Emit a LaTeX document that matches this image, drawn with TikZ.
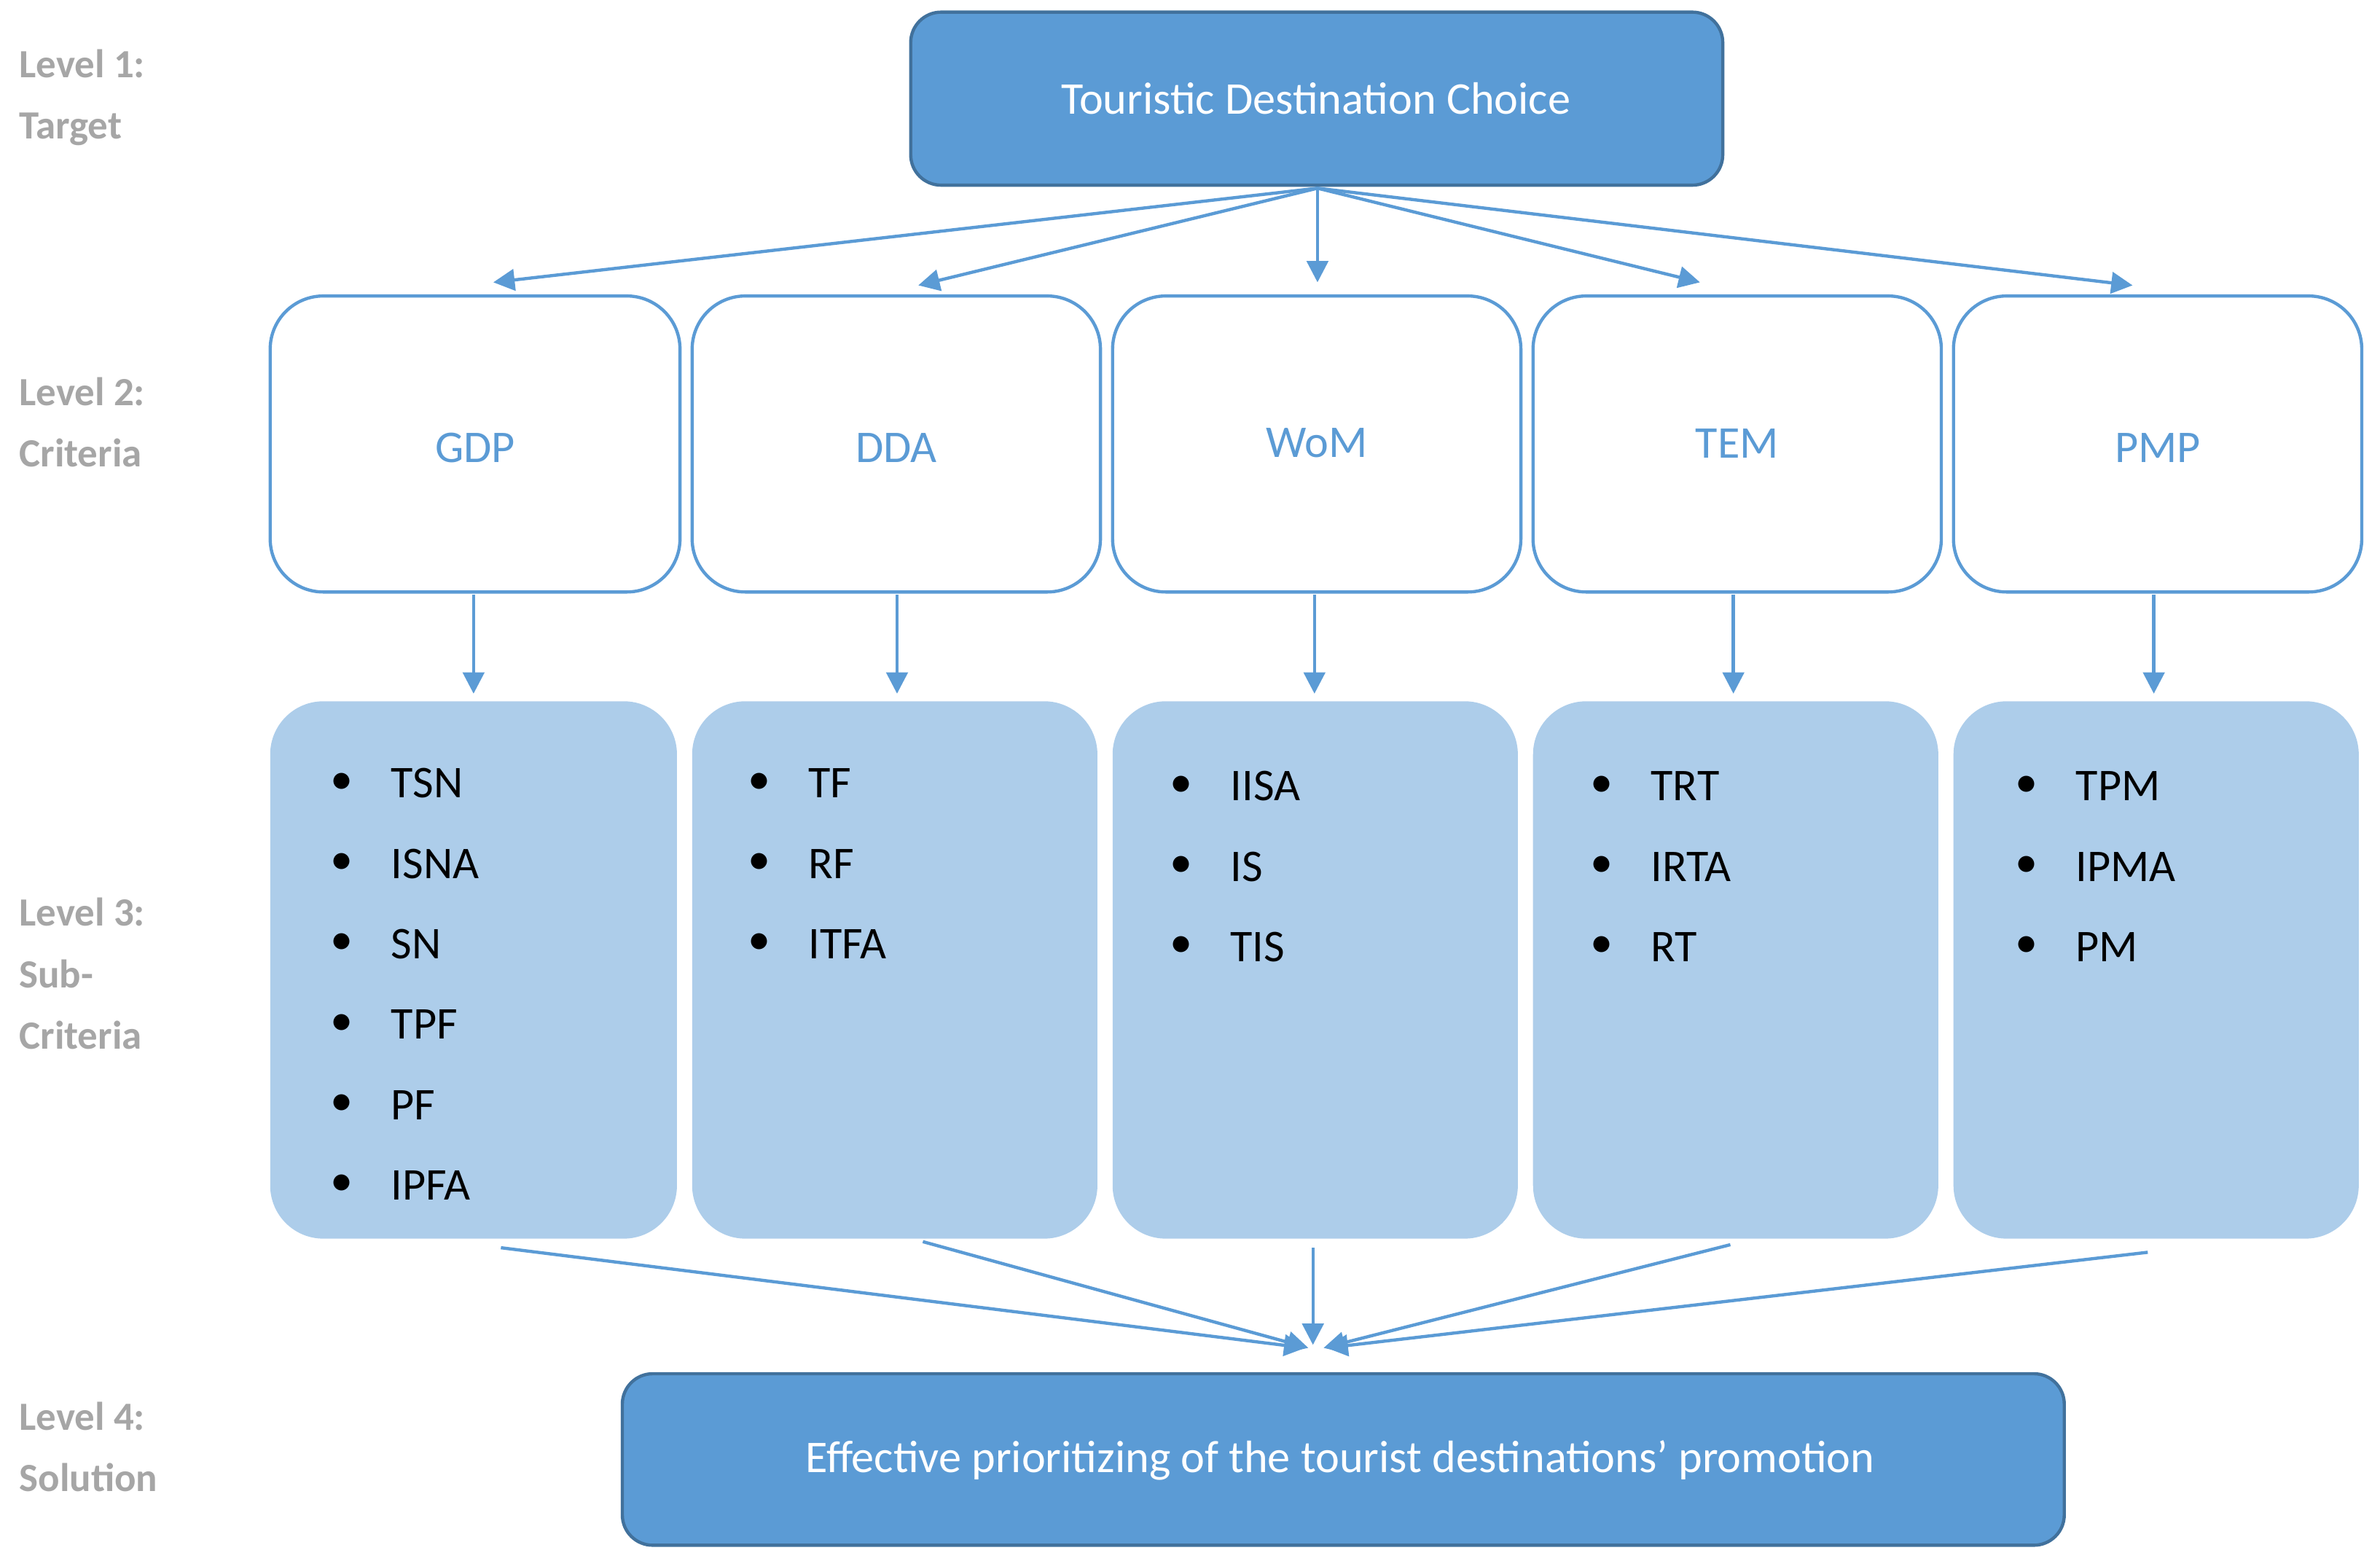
\documentclass[tikz,border=0pt]{standalone}
\usepackage{fontspec}
\setmainfont{Carlito}
\usetikzlibrary{arrows.meta}
\definecolor{dblue}{HTML}{5B9BD5}
\definecolor{lblue}{HTML}{ADCDEA}
\definecolor{bord}{HTML}{41719C}
\definecolor{lgray}{HTML}{A6A6A6}
\begin{document}
\begin{tikzpicture}[x=0.01cm,y=-0.01cm,
  lvl/.style={anchor=north west,align=left,text=lgray,font=\fontsize{7.5}{11.5}\selectfont\bfseries,inner sep=0},
  top/.style={draw=bord,fill=dblue,rounded corners=0.2cm,line width=0.6pt,text=white,font=\fontsize{8.5}{10}\selectfont},
  crit/.style={draw=dblue,fill=white,rounded corners=0.35cm,line width=0.6pt,text=dblue,font=\fontsize{8.5}{10}\selectfont},
  sub/.style={fill=lblue,rounded corners=0.35cm},
  it/.style={anchor=west,inner sep=0,font=\fontsize{8.5}{10}\selectfont},
  arr/.style={draw=dblue,line width=0.6pt,-{Triangle[length=4pt,width=4pt]}}]
\useasboundingbox (0,0) rectangle (1568,1028);
\node[lvl] (l1) at (12,32) {Level 1:\\Target};
\node[lvl] (l2) at (12,248) {Level 2:\\Criteria};
\node[lvl] (l3) at (12,591) {Level 3:\\Sub-\\Criteria};
\node[lvl] (l4) at (12,923) {Level 4:\\Solution};
\path[top] (600,8) rectangle (1135,122);
\node[text=white,font=\fontsize{8.5}{10}\selectfont] (T) at (867,65) {Touristic Destination Choice};
\coordinate (tb) at (868,124);
\path[top] (410,905) rectangle (1360,1018);
\node[text=white,font=\fontsize{8.5}{10}\selectfont] (S) at (883,962) {Effective prioritizing of the tourist destinations' promotion};
\foreach \n/\xa/\xb/\lab/\ty in {1/178/448/GDP/295,2/456/725/DDA/295,3/733/1002/WoM/292,4/1010/1279/TEM/292,5/1287/1556/PMP/295}{
  \path[crit] (\xa,195) rectangle (\xb,390);
  \node[text=dblue,font=\fontsize{8.5}{10}\selectfont] (c\n) at ({(\xa+\xb)/2},\ty) {\lab};
  \path[sub] (\xa,462) rectangle (\xb-2,816);
}
\coordinate (a1) at (325,186); \coordinate (a2) at (605,188); \coordinate (a3) at (868,186);
\coordinate (a4) at (1120,186); \coordinate (a5) at (1405,188);
\foreach \i in {1,...,5} \draw[arr] (tb) -- (a\i);
\foreach \i/\x in {1/312,2/591,3/866,4/1142,5/1419}{
  \coordinate (s\i) at (\x,392); \coordinate (e\i) at (\x,457);
  \draw[arr] (s\i) -- (e\i);
}
\newcommand{\items}[3]{\foreach \t [count=\k] in {#3}{
  \node[it] at (#1,{#2+(\k-1)*53}) {\textbullet};
  \node[it] at ({#1+40},{#2+(\k-1)*53}) {\t};}}
\items{217}{516}{TSN,ISNA,SN,TPF,PF,IPFA}
\items{492}{516}{TF,RF,ITFA}
\items{770}{518}{IISA,IS,TIS}
\items{1047}{518}{TRT,IRTA,RT}
\items{1327}{518}{TPM,IPMA,PM}
\coordinate (b1) at (330,822); \coordinate (b2) at (608,818); \coordinate (b3) at (865,822);
\coordinate (b4) at (1140,820); \coordinate (b5) at (1415,825);
\coordinate (m1) at (860,888); \coordinate (m2) at (862,888); \coordinate (m3) at (865,886);
\coordinate (m4) at (872,888); \coordinate (m5) at (874,888);
\foreach \i in {1,...,5} \draw[arr] (b\i) -- (m\i);
\end{tikzpicture}
\end{document}
